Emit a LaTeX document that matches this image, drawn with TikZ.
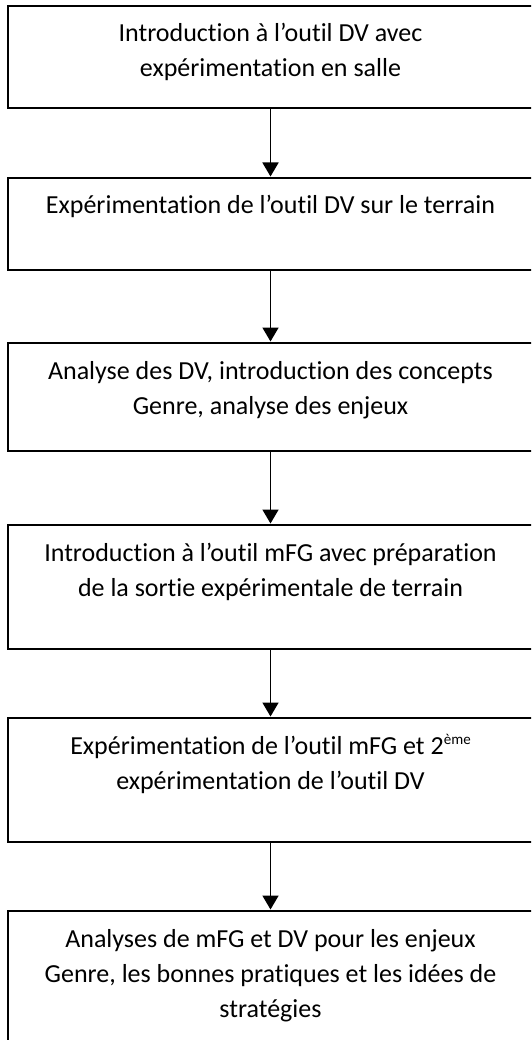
\documentclass[tikz,border=0pt]{standalone}
\usepackage{fontspec}
\setmainfont[Ligatures={NoCommon}]{Carlito}
\usetikzlibrary{arrows.meta}
\newcommand{\boxtxt}[2]{\parbox[c][#1pt][t]{525pt}{\fontsize{26}{35}\selectfont\vspace*{11.5pt}\centering\strut #2\par}}
\newcommand{\supx}[1]{\raisebox{9.5pt}{\fontsize{15}{15}\selectfont #1}}
\tikzset{
  stepbox/.style={draw=black, line width=2pt, inner sep=0pt, anchor=north west, rectangle},
  arr/.style={line width=1.8pt, -{Triangle[width=16pt,length=14pt]}, shorten >=0.5pt}
}
\begin{document}
\begin{tikzpicture}[x=1pt,y=1pt]
\clip (0,0) rectangle (531,-1040);
\node[stepbox] (b1) at (7,-5) {\boxtxt{102}{Introduction à l’outil DV avec\\expérimentation en salle}};
\node[stepbox] (b2) at (7,-177) {\boxtxt{92}{Expérimentation de l’outil DV sur le terrain}};
\node[stepbox] (b3) at (7,-342) {\boxtxt{108}{Analyse des DV, introduction des concepts\\Genre, analyse des enjeux}};
\node[stepbox] (b4) at (7,-524) {\boxtxt{124}{Introduction à l’outil mFG avec préparation\\de la sortie expérimentale de terrain}};
\node[stepbox] (b5) at (7,-717) {\boxtxt{124}{Expérimentation de l’outil mFG et 2\supx{ème}\\expérimentation de l’outil DV}};
\node[stepbox] (b6) at (7,-910) {\boxtxt{140}{Analyses de mFG et DV pour les enjeux\\Genre, les bonnes pratiques et les idées de\\stratégies}};
\draw[arr] (b1.south) -- (b2.north);
\draw[arr] (b2.south) -- (b3.north);
\draw[arr] (b3.south) -- (b4.north);
\draw[arr] (b4.south) -- (b5.north);
\draw[arr] (b5.south) -- (b6.north);
\end{tikzpicture}
\end{document}
